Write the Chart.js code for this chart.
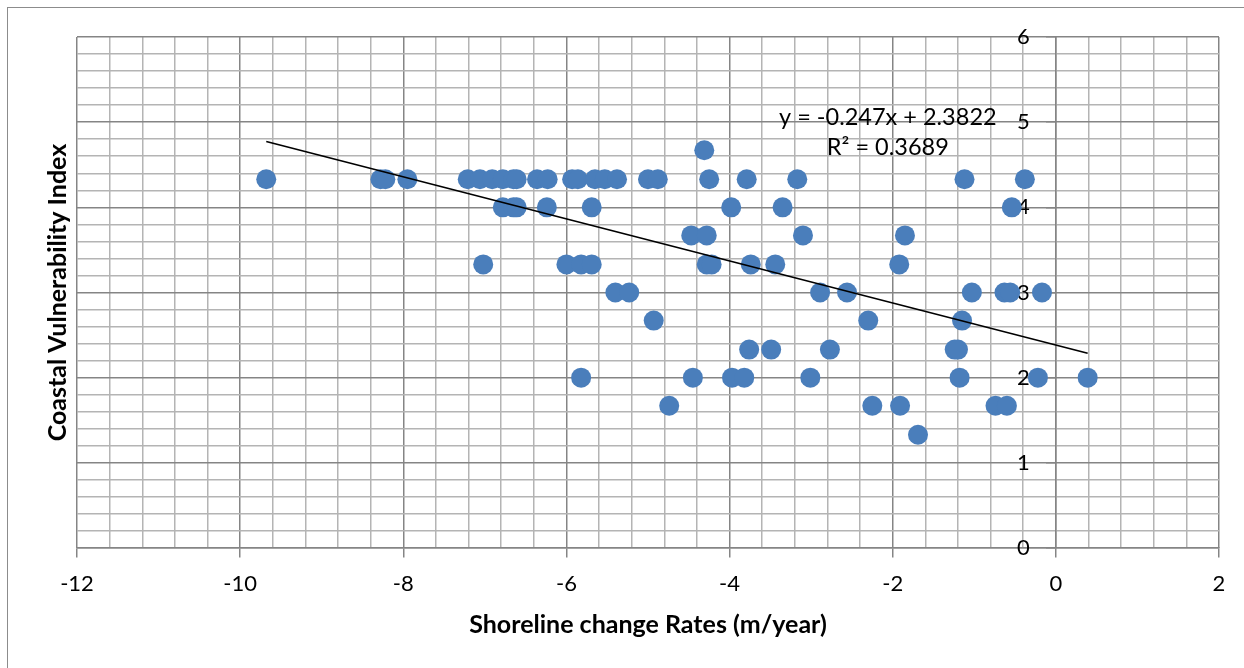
<!DOCTYPE html>
<html>
<head>
<meta charset="utf-8">
<script src="https://cdn.jsdelivr.net/npm/chart.js@4.4.1/dist/chart.umd.min.js"></script>
<style>
  html, body { margin: 0; padding: 0; background: #ffffff; overflow: hidden; }
  canvas { display: block; }
</style>
</head>
<body>
<canvas id="chart" width="1244" height="668"></canvas>
<script>
// Shoreline change rate (m/year) for each coastal segment
const shorelineRate = [
  -9.68, -8.28, -8.22, -7.95, -7.21, -7.06, -6.91, -6.78, -6.65, -6.61, -6.36, -6.23,
  -5.93, -5.86, -5.65, -5.53, -5.38, -5.00, -4.88, -4.25, -3.79, -3.17, -1.12, -0.38,
  -4.31,
  -6.78, -6.65, -6.61, -6.24, -5.69, -3.98, -3.35, -0.54,
  -4.47, -4.28, -3.10, -1.85,
  -7.02, -6.00, -5.82, -5.69, -4.28, -4.22, -3.74, -3.44, -1.92,
  -5.40, -5.23, -2.89, -2.56, -1.03, -0.63, -0.56, -0.17,
  -4.93, -2.30, -1.15,
  -3.76, -3.49, -2.77, -1.24, -1.20,
  -5.82, -4.45, -3.97, -3.82, -3.01, -1.18, -0.22, 0.39,
  -4.74, -2.25, -1.91, -0.74, -0.60,
  -1.69
];

// Coastal Vulnerability Index of the same segments
const vulnerabilityIndex = [
  4.33, 4.33, 4.33, 4.33, 4.33, 4.33, 4.33, 4.33, 4.33, 4.33, 4.33, 4.33,
  4.33, 4.33, 4.33, 4.33, 4.33, 4.33, 4.33, 4.33, 4.33, 4.33, 4.33, 4.33,
  4.67,
  4, 4, 4, 4, 4, 4, 4, 4,
  3.67, 3.67, 3.67, 3.67,
  3.33, 3.33, 3.33, 3.33, 3.33, 3.33, 3.33, 3.33, 3.33,
  3, 3, 3, 3, 3, 3, 3, 3,
  2.67, 2.67, 2.67,
  2.33, 2.33, 2.33, 2.33, 2.33,
  2, 2, 2, 2, 2, 2, 2, 2,
  1.67, 1.67, 1.67, 1.67, 1.67,
  1.33
];

// Linear trendline fitted to the segments
const trendSlope = -0.247;
const trendIntercept = 2.3822;
const trendR2 = 0.3689;

// Axis ranges and tick spacing
const xRange = [-12, 2];
const yRange = [0, 6];
const xMajorStep = 2, xMinorStep = 0.4;
const yMajorStep = 1, yMinorStep = 0.2;

const xAxisTitle = 'Shoreline change Rates (m/year)';
const yAxisTitle = 'Coastal Vulnerability Index';

const FONT = 'Lato, "Open Sans", sans-serif';
const MAJOR_GRID = '#858585';
const MINOR_GRID = '#b4b4b4';

const points = shorelineRate.map((x, i) => ({ x, y: vulnerabilityIndex[i] }));
const xMin = Math.min(...shorelineRate);
const xMax = Math.max(...shorelineRate);
const trendPoints = [xMin, xMax].map(x => ({ x, y: trendSlope * x + trendIntercept }));

const isMultiple = (v, step) => Math.abs(v / step - Math.round(v / step)) < 1e-6;

// Frame, axis titles and trendline equation
const decorations = {
  id: 'decorations',
  beforeDraw(chart) {
    const ctx = chart.ctx;
    ctx.save();
    ctx.strokeStyle = '#8c8c8c';
    ctx.lineWidth = 1;
    ctx.strokeRect(7.5, 7.5, 1400, 800);
    ctx.restore();
  },
  afterDraw(chart) {
    const { ctx, chartArea, scales } = chart;
    ctx.save();
    ctx.fillStyle = '#000000';
    ctx.textAlign = 'center';
    ctx.textBaseline = 'middle';
    ctx.font = 'bold 25px ' + FONT;
    ctx.fillText(xAxisTitle, (chartArea.left + chartArea.right) / 2, chartArea.bottom + 77);
    ctx.translate(chartArea.left - 19, (chartArea.top + chartArea.bottom) / 2);
    ctx.rotate(-Math.PI / 2);
    ctx.fillText(yAxisTitle, 0, 0);
    ctx.restore();

    ctx.save();
    ctx.fillStyle = '#000000';
    ctx.textAlign = 'center';
    ctx.textBaseline = 'middle';
    ctx.font = '23.5px ' + FONT;
    const ex = scales.x.getPixelForValue(-2.06);
    ctx.fillText('y = ' + trendSlope + 'x + ' + trendIntercept, ex, scales.y.getPixelForValue(5.06));
    ctx.fillText('R\u00B2 = ' + trendR2, ex, scales.y.getPixelForValue(4.70));
    ctx.restore();
  }
};

new Chart(document.getElementById('chart'), {
  type: 'scatter',
  data: {
    datasets: [
      {
        label: 'Trendline',
        type: 'line',
        data: trendPoints,
        borderColor: '#000000',
        borderWidth: 1.6,
        pointRadius: 0,
        fill: false,
        order: 0
      },
      {
        label: 'CVI',
        data: points,
        backgroundColor: '#4a7ebb',
        borderColor: '#4a7ebb',
        borderWidth: 0,
        pointRadius: 10,
        pointHoverRadius: 10,
        order: 1
      }
    ]
  },
  options: {
    responsive: false,
    animation: false,
    events: [],
    layout: { padding: { left: 77, top: 37, right: 25, bottom: 120 } },
    plugins: { legend: { display: false }, tooltip: { enabled: false } },
    scales: {
      x: {
        type: 'linear',
        position: { y: 0 },
        min: xRange[0],
        max: xRange[1],
        border: { display: true, color: MAJOR_GRID, width: 1.5 },
        grid: {
          color: c => isMultiple(c.tick.value, xMajorStep) ? MAJOR_GRID : MINOR_GRID,
          tickColor: c => isMultiple(c.tick.value, xMajorStep) ? MAJOR_GRID : 'rgba(0,0,0,0)',
          tickLength: 9,
          lineWidth: 1.5
        },
        ticks: {
          stepSize: xMinorStep,
          autoSkip: false,
          maxRotation: 0,
          padding: 14,
          color: '#000000',
          font: { family: FONT, size: 22 },
          callback: v => isMultiple(v, xMajorStep) ? String(Math.round(v)) : ''
        }
      },
      y: {
        type: 'linear',
        position: { x: 0 },
        min: yRange[0],
        max: yRange[1],
        border: { display: true, color: MAJOR_GRID, width: 1.5 },
        grid: {
          color: c => isMultiple(c.tick.value, yMajorStep) ? MAJOR_GRID : MINOR_GRID,
          tickColor: c => isMultiple(c.tick.value, yMajorStep) ? MAJOR_GRID : 'rgba(0,0,0,0)',
          tickLength: 9,
          lineWidth: 1.5
        },
        ticks: { stepSize: yMinorStep, autoSkip: false, display: false }
      },
      yLabels: {
        type: 'linear',
        axis: 'y',
        position: { x: -0.32 },
        min: yRange[0],
        max: yRange[1],
        border: { display: false },
        grid: { display: false },
        ticks: {
          stepSize: yMajorStep,
          autoSkip: false,
          color: '#000000',
          font: { family: FONT, size: 22 },
          callback: v => String(Math.round(v))
        }
      }
    }
  },
  plugins: [decorations]
});
</script>
</body>
</html>
